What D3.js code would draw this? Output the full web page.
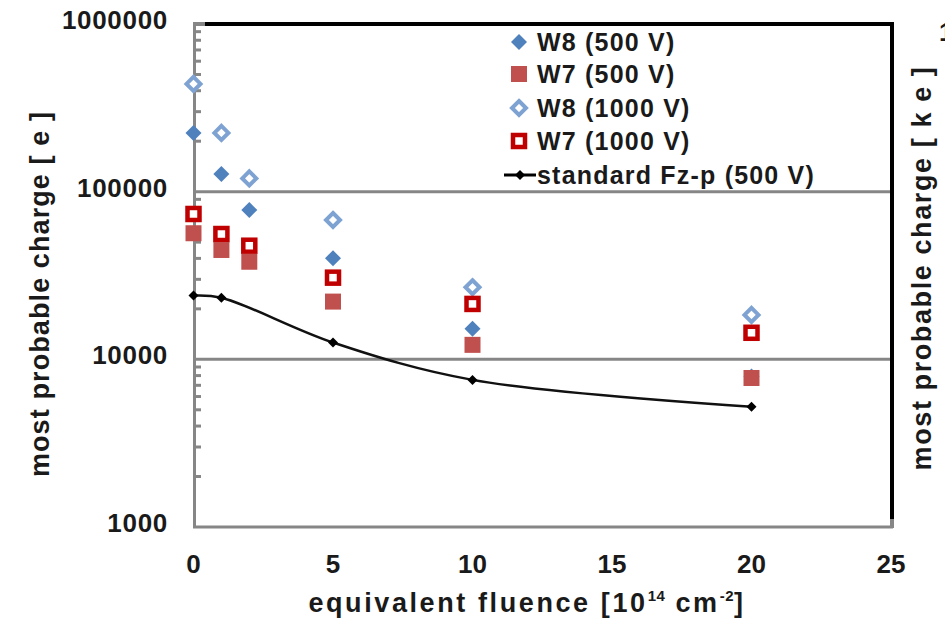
<!DOCTYPE html>
<html><head><meta charset="utf-8">
<script src="https://cdn.jsdelivr.net/npm/d3@7"></script>
<style>body{margin:0;background:#fff}svg{display:block}text{font-family:"Liberation Sans",Arial,sans-serif;fill:#1a1a1a}</style>
</head><body><svg id="c" width="945" height="620"></svg>
<script>
const fluence = [0, 1, 2, 5, 10, 20];
const w8_500 = [224000, 127500, 77800, 40100, 15200, 7900];
const w7_500 = [56500, 44900, 38200, 22100, 12200, 7740];
const w8_1000 = [439000, 224000, 120000, 67800, 26900, 18400];
const w7_1000 = [73600, 55900, 47600, 30700, 21400, 14400];
const stdFluence = [0, 1, 5, 10, 20];
const stdFz = [24000, 23300, 12600, 7540, 5220];
const yTicks = [1000, 10000, 100000, 1000000];
const xTicks = [0, 5, 10, 15, 20, 25];
const legendLabels = ["W8 (500 V)", "W7 (500 V)", "W8 (1000 V)", "W7 (1000 V)", "standard Fz-p (500 V)"];

const svg = d3.select("#c");
const x = d3.scaleLinear().domain([0, 25]).range([193.5, 891]);
const y = d3.scaleLog().domain([1000, 1e6]).range([527, 24]);
const gray = "#868686";

// minor log ticks inside left axis
const minor = [];
for (let d = 1000; d < 1e6; d *= 10) for (let k = 2; k <= 9; k++) minor.push(d * k);
svg.append("g").selectAll("line").data(minor).join("line")
  .attr("x1", 195).attr("x2", 201).attr("y1", d => y(d)).attr("y2", d => y(d))
  .attr("stroke", gray).attr("stroke-width", 3);

// gridlines
svg.append("g").selectAll("line").data([10000, 100000]).join("line")
  .attr("x1", 194).attr("x2", 892).attr("y1", d => y(d)).attr("y2", d => y(d))
  .attr("stroke", gray).attr("stroke-width", 3);
// top (black)
svg.append("line").attr("x1", 193).attr("x2", 205).attr("y1", y(1e6)).attr("y2", y(1e6)).attr("stroke", gray).attr("stroke-width", 4);
svg.append("line").attr("x1", 205).attr("x2", 894).attr("y1", y(1e6)).attr("y2", y(1e6)).attr("stroke", "#000").attr("stroke-width", 4);
// right (black)
svg.append("line").attr("x1", 892).attr("x2", 892).attr("y1", 22).attr("y2", 519).attr("stroke", "#000").attr("stroke-width", 4);
svg.append("line").attr("x1", 892).attr("x2", 892).attr("y1", 519).attr("y2", 528).attr("stroke", gray).attr("stroke-width", 4);
// bottom axis
svg.append("line").attr("x1", 193).attr("x2", 893).attr("y1", y(1000)).attr("y2", y(1000)).attr("stroke", gray).attr("stroke-width", 3);
// left axis
svg.append("line").attr("x1", 194.5).attr("x2", 194.5).attr("y1", 23).attr("y2", 528).attr("stroke", gray).attr("stroke-width", 3);

// y tick labels
svg.append("g").selectAll("text").data(yTicks).join("text")
  .attr("x", 168).attr("y", d => y(d) - 4).attr("text-anchor", "end").attr("dominant-baseline", "central")
  .attr("font-size", 26).attr("font-weight", "bold").attr("letter-spacing", 0.7).text(d => d3.format("d")(d));
// x tick labels
svg.append("g").selectAll("text").data(xTicks).join("text")
  .attr("x", d => x(d)).attr("y", 564).attr("text-anchor", "middle").attr("dominant-baseline", "central")
  .attr("font-size", 26).attr("font-weight", "bold").text(d => d);

// axis titles
const xt = svg.append("text").attr("x", 527).attr("y", 612).attr("text-anchor", "middle")
  .attr("font-size", 27).attr("font-weight", "bold").attr("letter-spacing", 2.6);
xt.append("tspan").text("equivalent fluence [10");
xt.append("tspan").attr("font-size", 15).attr("dy", -11).attr("letter-spacing", 0.5).text("14");
xt.append("tspan").attr("dy", 11).text(" cm");
xt.append("tspan").attr("font-size", 15).attr("dy", -11).attr("letter-spacing", 0.5).text("-2");
xt.append("tspan").attr("dy", 11).text("]");

svg.append("text").attr("transform", "translate(49,294) rotate(-90)").attr("text-anchor", "middle")
  .attr("font-size", 27).attr("font-weight", "bold").attr("letter-spacing", 1.1).text("most probable charge  [ e ]");
svg.append("text").attr("transform", "translate(931,268) rotate(-90)").attr("text-anchor", "middle")
  .attr("font-size", 27).attr("font-weight", "bold").attr("letter-spacing", 1.6).text("most probable charge  [ k e ]");
svg.append("text").attr("x", 939).attr("y", 41).attr("font-size", 26).attr("font-weight", "bold").text("1000");

// markers
const blue = "#4F81BD", red = "#C0504D", dred = "#C00000";
function diamond(g, cx, cy, r, fill, stroke, sw) {
  g.append("path").attr("d", `M${cx},${cy - r}L${cx + r},${cy}L${cx},${cy + r}L${cx - r},${cy}Z`)
    .attr("fill", fill).attr("stroke", stroke).attr("stroke-width", sw);
}
const gm = svg.append("g");
// standard line
const line = d3.line().x((d, i) => x(stdFluence[i])).y(d => y(d)).curve(d3.curveCatmullRom.alpha(0.5));
gm.append("path").attr("d", line(stdFz)).attr("fill", "none").attr("stroke", "#111").attr("stroke-width", 2.5);
stdFz.forEach((v, i) => diamond(gm, x(stdFluence[i]), y(v), 5, "#000", "none", 0));
w8_1000.forEach((v, i) => diamond(gm, x(fluence[i]), y(v), 7, "#fff", "#7EA3D2", 4));
w8_500.forEach((v, i) => diamond(gm, x(fluence[i]), y(v), 8, blue, "none", 0));
w7_1000.forEach((v, i) => gm.append("rect").attr("x", x(fluence[i]) - 6).attr("y", y(v) - 6).attr("width", 12).attr("height", 12)
  .attr("fill", "#fff").attr("stroke", dred).attr("stroke-width", 4.5));
w7_500.forEach((v, i) => gm.append("rect").attr("x", x(fluence[i]) - 8).attr("y", y(v) - 8).attr("width", 16).attr("height", 16)
  .attr("fill", red));

// legend
const lg = svg.append("g");
const ly = [42, 74, 108, 141, 175];
diamond(lg, 519, ly[0], 8, blue, "none", 0);
lg.append("rect").attr("x", 511).attr("y", ly[1] - 8).attr("width", 16).attr("height", 16).attr("fill", red);
diamond(lg, 519, ly[2], 7, "#fff", "#7EA3D2", 4);
lg.append("rect").attr("x", 513).attr("y", ly[3] - 6).attr("width", 12).attr("height", 12).attr("fill", "#fff").attr("stroke", dred).attr("stroke-width", 4.5);
lg.append("line").attr("x1", 504).attr("x2", 536).attr("y1", ly[4]).attr("y2", ly[4]).attr("stroke", "#000").attr("stroke-width", 3);
diamond(lg, 520, ly[4], 5, "#000", "none", 0);
lg.selectAll("text").data(legendLabels).join("text")
  .attr("x", 537).attr("y", (d, i) => ly[i]).attr("dominant-baseline", "central")
  .attr("font-size", 25).attr("font-weight", "bold").attr("letter-spacing", 1.2).text(d => d);
</script></body></html>
